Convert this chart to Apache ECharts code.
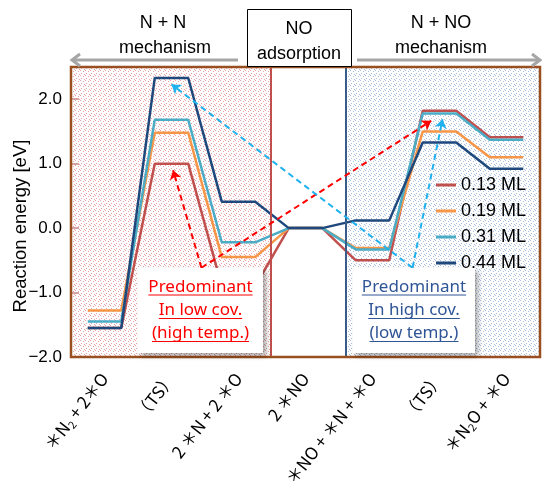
<!DOCTYPE html>
<html><head><meta charset="utf-8">
<script src="https://cdn.jsdelivr.net/npm/echarts@6/dist/echarts.min.js"></script>
<style>html,body{margin:0;padding:0;background:#fff}#c{width:542px;height:484px}</style>
</head><body><div id="c"></div>
<script>
// ---- data ----
const categories = ['＊N₂ + 2＊O', '（TS）', '2 ＊N + 2 ＊O', '2 ＊NO', '＊NO + ＊N + ＊O', '（TS）', '＊N₂O + ＊O'];
const seriesNames = ['0.13 ML', '0.19 ML', '0.31 ML', '0.44 ML'];
const e013 = [-1.55, 1.00, -0.90, 0.00, -0.50, 1.82, 1.41];
const e019 = [-1.28, 1.48, -0.45, 0.00, -0.31, 1.50, 1.10];
const e031 = [-1.45, 1.68, -0.22, 0.00, -0.33, 1.78, 1.37];
const e044 = [-1.55, 2.33, 0.41, 0.00, 0.12, 1.33, 0.92];
const yMin = -2, yMax = 2.5, yStep = 1;

const seriesValues = [e013, e019, e031, e044];
const colors = ['#c0504d', '#f79646', '#4bacc6', '#1f497d'];

function steps(vals) {
  const out = [];
  vals.forEach((v, i) => { out.push([i + 0.25, v]); out.push([i + 0.75, v]); });
  return out;
}
function makePattern(color) {
  const c = document.createElement('canvas');
  c.width = 5; c.height = 5;
  const g = c.getContext('2d');
  g.fillStyle = '#ffffff'; g.fillRect(0, 0, 5, 5);
  g.fillStyle = color;
  [[0,0],[3,1],[1,3],[4,4]].forEach(p => g.fillRect(p[0], p[1], 1, 1));
  return c;
}
const mctx = document.createElement('canvas').getContext('2d');
function tw(str, font) { mctx.font = font; return mctx.measureText(str).width; }

const chart = echarts.init(document.getElementById('c'));

const lineSeries = seriesNames.map((n, k) => ({
  name: n, type: 'line', xAxisIndex: 1, yAxisIndex: 0,
  data: steps(seriesValues[k]), showSymbol: false, symbol: 'none',
  lineStyle: { color: colors[k], width: 2.5 }, itemStyle: { color: colors[k] },
  z: 3, silent: true
}));

const annFont = '17px "Noto Sans"';
function annBox(cx, x, y, w, h, lines, color) {
  const els = [{
    type: 'rect', shape: { x: x, y: y, width: w, height: h },
    style: { fill: '#ffffff', shadowBlur: 5, shadowOffsetX: 3, shadowOffsetY: 3, shadowColor: 'rgba(0,0,0,0.35)' },
    z: 80, silent: true
  }];
  const base = [287, 310.5, 333.5];
  lines.forEach((t, i) => {
    els.push({ type: 'text', x: cx, y: base[i], z: 81, silent: true,
      style: { text: t, font: annFont, fill: color, align: 'center', verticalAlign: 'middle' } });
    const w2 = tw(t, annFont);
    els.push({ type: 'line', z: 81, silent: true,
      shape: { x1: cx - w2 / 2, y1: base[i] + 8, x2: cx + w2 / 2, y2: base[i] + 8 },
      style: { stroke: color, lineWidth: 1 } });
  });
  return els;
}

const topFont = '18px "Liberation Sans"';
function topText(t, x, y) {
  return { type: 'text', x: x, y: y, z: 70, silent: true,
    style: { text: t, font: topFont, fill: '#000', align: 'center', verticalAlign: 'middle' } };
}
const arrowStroke = { stroke: '#a6a6a6', lineWidth: 3, fill: null };

const option = {
  animation: false,
  grid: { left: 71, top: 67, width: 469, height: 290, containLabel: false, outerBoundsMode: 'none' },
  legend: {
    data: seriesNames, orient: 'vertical', left: 431, top: 171,
    icon: 'rect', itemWidth: 20, itemHeight: 3, itemGap: 8,
    textStyle: { fontSize: 18, fontFamily: 'Liberation Sans', color: '#000', lineHeight: 18 },
    selectedMode: false
  },
  xAxis: [{
    type: 'category', data: categories, boundaryGap: true,
    axisLine: { show: false }, axisTick: { show: false },
    axisLabel: {
      rotate: 52, margin: 18, interval: 0,
      formatter: v => {
        const parts = v.split('₂');
        return parts.map((p, i) => (p ? '{a|' + p + '}' : '') + (i < parts.length - 1 ? '{s|2}' : '')).join('');
      },
      rich: {
        a: { fontSize: 17, fontFamily: 'Noto Sans CJK JP', color: '#000', lineHeight: 21 },
        s: { fontSize: 11, fontFamily: 'Noto Sans CJK JP', color: '#000', lineHeight: 11, verticalAlign: 'bottom' }
      }
    }
  }, {
    type: 'value', min: 0, max: 7, show: false
  }],
  yAxis: {
    type: 'value', min: yMin, max: yMax, interval: yStep, z: 10,
    name: 'Reaction energy [eV]', nameLocation: 'middle', nameGap: 41, nameMoveOverlap: false,
    nameTextStyle: { fontSize: 18.5, fontFamily: 'Liberation Sans', color: '#000', padding: [0, 28, 0, 0] },
    axisLine: { show: false },
    axisTick: { show: true, inside: true, length: 8, lineStyle: { color: '#c98a8a', width: 1.5 } },
    splitLine: { show: false },
    axisLabel: {
      showMaxLabel: false, margin: 9, fontSize: 17, fontFamily: 'Liberation Sans', color: '#000',
      formatter: v => (v < 0 ? '\u2212' : '') + Math.abs(v).toFixed(1)
    }
  },
  series: [{
    type: 'line', xAxisIndex: 1, data: [], z: 1, silent: true,
    markArea: {
      silent: true,
      data: [
        [{ xAxis: 0, itemStyle: { color: { image: makePattern('#eaa0a0'), repeat: 'repeat' } } }, { xAxis: 2.98 }],
        [{ xAxis: 4.1, itemStyle: { color: { image: makePattern('#a8bfe2'), repeat: 'repeat' } } }, { xAxis: 7 }]
      ]
    },
    markLine: {
      silent: true, symbol: 'none', label: { show: false },
      data: [
        { xAxis: 2.98, lineStyle: { color: '#c0504d', width: 2, type: 'solid' } },
        { xAxis: 4.1, lineStyle: { color: '#385d8a', width: 2, type: 'solid' } }
      ]
    }
  }].concat(lineSeries).concat([{
    type: 'line', xAxisIndex: 1, data: [], z: 6, silent: true,
    markLine: {
      silent: true, symbol: ['none', 'arrow'], symbolSize: 9, label: { show: false },
      data: [
        [{ coord: [1.947, -0.615], lineStyle: { color: '#ff0000', width: 2, type: [6, 4] } }, { coord: [1.524, 0.897] }],
        [{ coord: [1.947, -0.615], lineStyle: { color: '#ff0000', width: 2, type: [6, 4] } }, { coord: [5.377, 1.666] }],
        [{ coord: [5.098, -0.615], lineStyle: { color: '#1fb2ee', width: 2, type: [6, 4] } }, { coord: [5.545, 1.69] }],
        [{ coord: [5.098, -0.615], lineStyle: { color: '#1fb2ee', width: 2, type: [6, 4] } }, { coord: [1.50, 2.23] }]
      ]
    }
  }]),
  graphic: [
    { type: 'rect', shape: { x: 71, y: 67, width: 469, height: 290 }, style: { fill: null, stroke: '#9a4f20', lineWidth: 2.5 }, z: 50, silent: true },
    { type: 'rect', shape: { x: 247.5, y: 9.5, width: 104, height: 57 }, style: { fill: '#fff', stroke: '#000', lineWidth: 1 }, z: 60, silent: true },
    topText('N + N', 163, 23), topText('mechanism', 165, 48),
    topText('NO', 299, 29), topText('adsorption', 299, 54),
    topText('N + NO', 441, 23), topText('mechanism', 441, 48),
    { type: 'line', shape: { x1: 238, y1: 60, x2: 72, y2: 60 }, style: arrowStroke, z: 60, silent: true },
    { type: 'polyline', shape: { points: [[80, 54], [72, 60], [80, 66]] }, style: arrowStroke, z: 60, silent: true },
    { type: 'line', shape: { x1: 357, y1: 60, x2: 539, y2: 60 }, style: arrowStroke, z: 60, silent: true },
    { type: 'polyline', shape: { points: [[532, 54], [540, 60], [532, 66]] }, style: arrowStroke, z: 60, silent: true }
  ].concat(annBox(200.5, 138, 268, 125, 85, ['Predominant', 'In low cov.', '(high temp.)'], '#ff0000'))
   .concat(annBox(414, 353, 268, 122, 85, ['Predominant', 'In high cov.', '(low temp.)'], '#2f5597'))
};
chart.setOption(option);
</script></body></html>
